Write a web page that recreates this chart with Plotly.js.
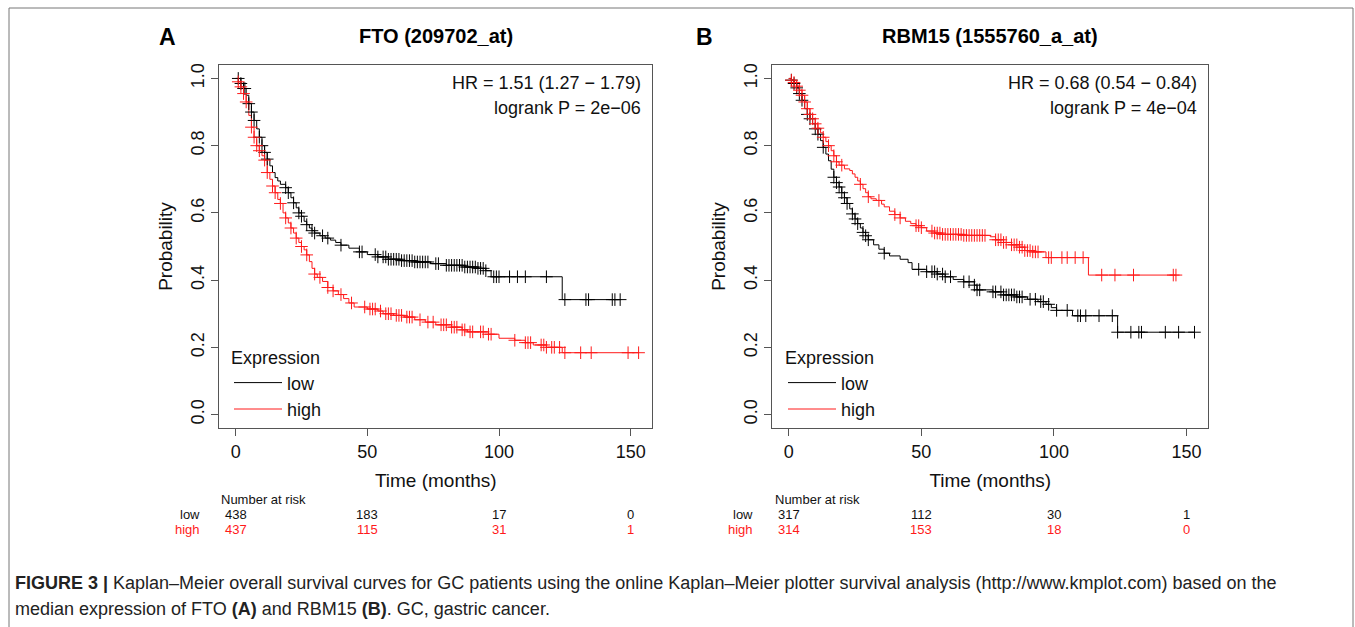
<!DOCTYPE html>
<html>
<head>
<meta charset="utf-8">
<script src="https://cdn.plot.ly/plotly-3.0.1.min.js"></script>
<style>html,body{margin:0;padding:0;background:#fff;}#chart{width:1355px;height:627px;}</style>
</head>
<body>
<div id="chart"></div>
<script>
// ---------- Panel A: FTO (209702_at) ----------
const aLowT  = [0,2,3,4,5,6,7,8,9,10,11,12,13,14,15,16,17,19,20,21,22,23,24,25,26,27,28,29,30,32,34,36,38,40,43,47,50,54,58,63,68,74,80,87,92,95,97,124,146];
const aLowS  = [1,.985,.97,.95,.925,.9,.875,.85,.825,.8,.78,.76,.74,.72,.705,.695,.685,.675,.66,.645,.63,.615,.6,.59,.575,.565,.555,.547,.54,.532,.525,.519,.512,.504,.495,.484,.476,.469,.462,.458,.454,.449,.444,.439,.435,.428,.41,.342,.342];
const aLowCens = [1,2,3,3.5,5,6,7,9,10,11,12,19,20,22,24,25,27,29,30,33,35,40,47,48,53,54,56,57,58,59,60,61,62,63,64,65,66,67,68,69,70,71,72,73,76,77,80,81,82,83,84,85,86,87,88,89,90,91,92,93,94,95,98,99,100,104,107,110,118,125,133,134,143,144,146];
const aHighT = [0,1,2,3,4,5,6,7,8,9,10,11,12,13,14,15,16,17,18,19,20,21,22,23,24,25,26,27,28,29,30,31,33,35,37,39,41,43,45,50,54,56,60,64,68,72,76,82,86,88,96,100,106,110,113,118,124,153];
const aHighS = [1,.99,.975,.955,.93,.89,.855,.825,.8,.785,.77,.757,.72,.7,.68,.66,.64,.628,.6,.585,.57,.555,.54,.525,.512,.5,.49,.475,.455,.435,.418,.408,.396,.378,.368,.357,.345,.332,.32,.314,.308,.3,.295,.29,.282,.275,.267,.26,.252,.246,.239,.227,.221,.214,.207,.2,.184,.184];
const aHighCens = [1,2,3,4,6,7,8,9,11,12,14,15,17,19,21,23,25,27,30,32,35,37,40,44,49,51,52,53,55,57,58,59,61,62,63,65,66,67,70,73,75,78,79,80,82,83,84,86,87,89,90,93,94,96,97,106,110,111,112,116,117,118,120,121,123,125,131,135,149,153];
const aRiskLow  = ["438","183","17","0"];
const aRiskHigh = ["437","115","31","1"];
const aTitle = "FTO (209702_at)";
const aStats = ["HR = 1.51 (1.27 \u2212 1.79)", "logrank P = 2e\u221206"];

// ---------- Panel B: RBM15 (1555760_a_at) ----------
const bLowT  = [0,1,2,3,4,5,6,7,8,9,10,11,12,13,14,15,16,17,18,19,20,21,22,23,24,25,26,27,28,29,30,32,34,36,38,42,45,46.5,52,56,59,62,66,70,71,77,81,86,90,94,97,99,101,107,124,153];
const bLowS  = [1,.995,.985,.972,.955,.935,.91,.893,.88,.865,.85,.834,.815,.795,.775,.755,.73,.706,.69,.677,.66,.645,.628,.612,.597,.582,.568,.555,.542,.532,.52,.505,.492,.48,.472,.462,.452,.432,.425,.418,.41,.402,.395,.385,.371,.365,.356,.35,.343,.336,.328,.318,.31,.294,.245,.245];
const bLowCens = [1,2,3,4,5,7,8,10,11,13,17,18,19,20,21,22,24,25,26,28,29,30,36,49,52,54,55,56,58,59,61,66,68,70,71,72,77,78,80,81,82,83,84,85,86,87,88,91,93,95,96,98,101,105,109,110,112,117,122,124,129,132,133,142,147,153];
const bHighT = [0,1,2,3,4,5,6,7,8,9,10,11,12,13,14,15,16,17,18,19,21,23,24,25,26,27,28,29,30,31,33,35,36,38,40,42,44,46,48,50,52,55,58,66,76,78,81,84,87,89,92,97,113,146];
const bHighS = [1,.995,.988,.977,.965,.95,.93,.91,.893,.88,.865,.852,.838,.825,.812,.8,.785,.77,.752,.742,.731,.726,.716,.706,.695,.685,.672,.66,.648,.642,.637,.626,.618,.605,.595,.585,.575,.568,.562,.556,.546,.54,.536,.533,.529,.52,.512,.505,.498,.488,.484,.467,.415,.415];
const bHighCens = [1,2,3,4,5,6,7,8,9,10,11,13,15,17,18,20,27,30,34,40,42,48,49,50,54,55,56,57,58,59,60,61,62,63,64,65,66,67,68,69,70,71,72,73,74,78,79,80,81,82,84,85,86,87,88,89,90,91,92,93,94,98,99,103,105,108,111,118,123,130,145,146];
const bRiskLow  = ["317","112","30","1"];
const bRiskHigh = ["314","153","18","0"];
const bTitle = "RBM15 (1555760_a_at)";
const bStats = ["HR = 0.68 (0.54 \u2212 0.84)", "logrank P = 4e\u221204"];

const riskTimes = [0,50,100,150];
const groups = ["low","high"];
const caption1 = "<b>FIGURE 3 |</b> Kaplan\u2013Meier overall survival curves for GC patients using the online Kaplan\u2013Meier plotter survival analysis (http://www.kmplot.com) based on the";
const caption2 = "median expression of FTO <b>(A)</b> and RBM15 <b>(B)</b>. GC, gastric cancer.";

// ---------- helpers ----------
const BLACK = "#000000", RED = "#ff1a1a";
const FONT = "Liberation Sans, Arial, sans-serif";
function stepAt(T, S, t){ let v = S[0]; for (let i=0;i<T.length;i++){ if (T[i] <= t) v = S[i]; else break; } return v; }
const W = 1355, H = 627;
const px = v => v / W, py = v => 1 - v / H;

function panelTraces(T1,S1,C1,T2,S2,C2,xa,ya,leg){
  return [
    {x:T1,y:S1,xaxis:xa,yaxis:ya,mode:"lines",line:{shape:"hv",color:BLACK,width:1},name:groups[0],legend:leg},
    {x:T2,y:S2,xaxis:xa,yaxis:ya,mode:"lines",line:{shape:"hv",color:RED,width:1},name:groups[1],legend:leg},
    {x:C1,y:C1.map(t=>stepAt(T1,S1,t)),xaxis:xa,yaxis:ya,mode:"markers",showlegend:false,
      marker:{symbol:"cross-thin",size:9,line:{color:BLACK,width:1}},hoverinfo:"skip"},
    {x:C2,y:C2.map(t=>stepAt(T2,S2,t)),xaxis:xa,yaxis:ya,mode:"markers",showlegend:false,
      marker:{symbol:"cross-thin",size:9,line:{color:RED,width:1}},hoverinfo:"skip"}
  ];
}
const data = [
  ...panelTraces(aLowT,aLowS,aLowCens,aHighT,aHighS,aHighCens,"x","y","legend"),
  ...panelTraces(bLowT,bLowS,bLowCens,bHighT,bHighS,bHighCens,"x2","y2","legend2")
];

function xaxis(l,r){ return {domain:[px(l),px(r)],range:[-6.2,158.2],tickvals:riskTimes,ticks:"outside",ticklen:7,tickcolor:"#555",
  showline:true,mirror:true,linecolor:"#555",linewidth:1,showgrid:false,zeroline:false,
  tickfont:{family:FONT,size:18,color:"#111"},title:{text:"Time (months)",font:{family:FONT,size:19,color:"#111"},standoff:13}}; }
function yaxis(){ return {domain:[py(428),py(65)],range:[-0.04,1.04],tickvals:[0,0.2,0.4,0.6,0.8,1.0],tickformat:".1f",tickangle:-90,
  ticks:"outside",ticklen:7,tickcolor:"#555",showline:true,mirror:true,linecolor:"#555",linewidth:1,showgrid:false,zeroline:false,
  tickfont:{family:FONT,size:18,color:"#111"},title:{text:"Probability",font:{family:FONT,size:19,color:"#111"},standoff:10}}; }

const ann = [];
function A(o){ ann.push(Object.assign({xref:"paper",yref:"paper",showarrow:false,xanchor:"center",yanchor:"middle"},o)); }
function panelAnn(xa, letter, title, letterX, titleX, stats, statsX, riskLow, riskHigh, numX, labelX){
  A({x:px(letterX),y:py(37),text:"<b>"+letter+"</b>",font:{family:FONT,size:23,color:"#000"}});
  A({x:px(titleX),y:py(36),text:"<b>"+title+"</b>",font:{family:FONT,size:20,color:"#000"}});
  stats.forEach((s,i)=>A({x:px(statsX),y:py(83+i*25),xanchor:"right",text:s,font:{family:FONT,size:18,color:"#111"}}));
  A({x:px(numX),y:py(499),xanchor:"left",text:"Number at risk",font:{family:FONT,size:13,color:"#111"}});
  A({x:px(labelX),y:py(514),xanchor:"right",text:groups[0],font:{family:FONT,size:13,color:"#111"}});
  A({x:px(labelX),y:py(529),xanchor:"right",text:groups[1],font:{family:FONT,size:13,color:RED}});
  riskTimes.forEach((t,i)=>{
    A({xref:xa,x:t,y:py(514),text:riskLow[i],font:{family:FONT,size:13,color:"#111"}});
    A({xref:xa,x:t,y:py(529),text:riskHigh[i],font:{family:FONT,size:13,color:RED}});
  });
}
panelAnn("x","A",aTitle,167,436,aStats,643,aRiskLow,aRiskHigh,219,202);
panelAnn("x2","B",bTitle,705,990,bStats,1199,bRiskLow,bRiskHigh,773,755);
A({x:px(13),y:py(583),xanchor:"left",text:caption1,font:{family:FONT,size:18,color:"#222"}});
A({x:px(13),y:py(609),xanchor:"left",text:caption2,font:{family:FONT,size:18,color:"#222"}});

function legendCfg(l){ return {x:px(l),y:py(341),xanchor:"left",yanchor:"top",bgcolor:"rgba(0,0,0,0)",borderwidth:0,itemwidth:48,
  title:{text:"Expression",font:{family:FONT,size:18,color:"#111"}},font:{family:FONT,size:18,color:"#111"},tracegroupgap:0}; }

const layout = {
  width:W,height:H,margin:{l:0,r:0,t:0,b:0},paper_bgcolor:"#fff",plot_bgcolor:"#fff",
  xaxis:Object.assign(xaxis(219.3,652.3),{anchor:"y"}), yaxis:Object.assign(yaxis(),{anchor:"x"}),
  xaxis2:Object.assign(xaxis(772.3,1208.3),{anchor:"y2"}), yaxis2:Object.assign(yaxis(),{anchor:"x2"}),
  legend:legendCfg(229), legend2:legendCfg(783),
  annotations:ann,
  shapes:[{type:"rect",xref:"paper",yref:"paper",x0:px(9),x1:px(1353),y0:py(640),y1:py(8),line:{color:"#777",width:1}}]
};
Plotly.newPlot("chart",data,layout,{displayModeBar:false,staticPlot:true});
</script>
</body>
</html>
